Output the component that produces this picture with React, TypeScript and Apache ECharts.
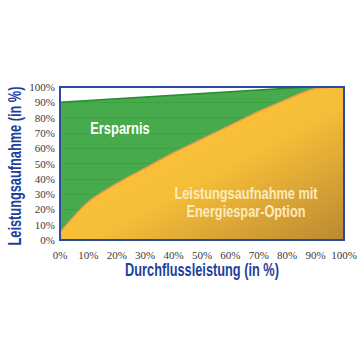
import React, { useEffect, useRef } from "react";
import * as echarts from "echarts";

const flowPercent = [0, 10, 20, 30, 40, 50, 60, 70, 80, 90, 100];
const powerWithOption = [5, 25, 37, 47, 57, 66, 75, 84, 92, 99, 100];
const baselineX = [0, 87, 100];
const baselineY = [90, 100, 100];

const SANS = '"Liberation Sans", Arial, sans-serif';
const SERIF = '"Liberation Serif", "DejaVu Serif", serif';

export default function App() {
  const ref = useRef<HTMLDivElement>(null);
  useEffect(() => {
    if (!ref.current) return;
    const chart = echarts.init(ref.current, undefined, { renderer: "svg" });
    const gridL = 60, gridR = 16, gridT = 87, gridB = 120;
    chart.setOption({
      animation: false,
      backgroundColor: "#ffffff",
      grid: { left: gridL, right: gridR, top: gridT, bottom: gridB },
      xAxis: {
        type: "value",
        min: 0,
        max: 100,
        interval: 10,
        axisLine: { show: false },
        axisTick: { show: false },
        splitLine: { show: false },
        axisLabel: { formatter: "{value}%", color: "#3a3a3a", fontFamily: SERIF, fontSize: 11, margin: 9 },
      },
      yAxis: {
        type: "value",
        min: 0,
        max: 100,
        interval: 10,
        axisLine: { show: false },
        axisTick: { show: false },
        splitLine: { show: true, lineStyle: { color: "#74c474", width: 1 } },
        axisLabel: { formatter: "{value}%", color: "#3a3a3a", fontFamily: SERIF, fontSize: 11, margin: 5 },
      },
      series: [
        {
          type: "line",
          data: baselineX.map((x, i) => [x, baselineY[i]]),
          symbol: "none",
          lineStyle: { color: "#2a8a30", width: 1.5 },
          areaStyle: { color: "#33a23a", opacity: 0.9, origin: "start" },
          z: 2,
        },
        {
          type: "line",
          data: flowPercent.map((x, i) => [x, powerWithOption[i]]),
          symbol: "none",
          smooth: 0.3,
          lineStyle: { color: "#ef9a4a", width: 1.5 },
          areaStyle: {
            origin: "start",
            opacity: 1,
            color: new echarts.graphic.LinearGradient(0, 0, 1, 1, [
              { offset: 0, color: "#ffc93a" },
              { offset: 0.55, color: "#f6be38" },
              { offset: 1, color: "#bb8932" },
            ]),
          },
          z: 3,
        },
      ],
      graphic: [
        {
          type: "rect",
          z: 100,
          shape: { x: gridL, y: gridT, width: 360 - gridL - gridR, height: 360 - gridT - gridB },
          style: { fill: "none", stroke: "#2a4aa8", lineWidth: 2 },
        },
        {
          type: "text",
          z: 100,
          x: 120,
          y: 128,
          scaleX: 0.76,
          style: { text: "Ersparnis", fill: "#ffffff", font: `bold 17px ${SANS}`, align: "center", verticalAlign: "middle" },
        },
        {
          type: "text",
          z: 100,
          x: 246,
          y: 202,
          scaleX: 0.75,
          style: {
            text: "Leistungsaufnahme mit\nEnergiespar-Option",
            fill: "#fcebbd",
            font: `bold 17px ${SANS}`,
            lineHeight: 18,
            align: "center",
            verticalAlign: "middle",
          },
        },
        {
          type: "text",
          z: 100,
          x: 202,
          y: 270,
          scaleX: 0.71,
          style: { text: "Durchflussleistung (in %)", fill: "#1e3fa0", font: `bold 18px ${SANS}`, align: "center", verticalAlign: "middle" },
        },
        {
          type: "text",
          z: 100,
          x: 15,
          y: 166,
          rotation: Math.PI / 2,
          scaleX: 0.71,
          style: { text: "Leistungsaufnahme (in %)", fill: "#1e3fa0", font: `bold 18px ${SANS}`, align: "center", verticalAlign: "middle" },
        },
      ],
    });
    return () => chart.dispose();
  }, []);
  return <div ref={ref} style={{ width: 360, height: 360, position: "fixed", left: 0, top: 0 }} />;
}
